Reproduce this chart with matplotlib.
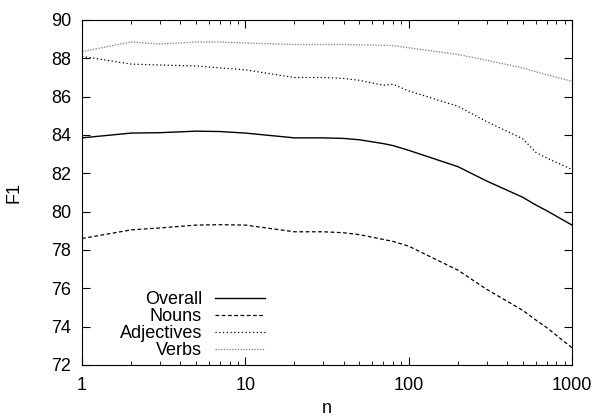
import matplotlib
matplotlib.use("Agg")
import matplotlib.pyplot as plt
from matplotlib.ticker import LogLocator, NullFormatter

plt.rcParams['font.family'] = ['Liberation Sans', 'DejaVu Sans']

# F1 versus n
n = [1, 2, 3, 5, 7, 10, 20, 30, 40, 50, 70, 80, 100, 200, 300, 500, 600, 700, 1000]
overall = [83.85, 84.1, 84.12, 84.2, 84.18, 84.1, 83.85, 83.85, 83.82, 83.75, 83.55, 83.45, 83.2, 82.35, 81.6, 80.75, 80.35, 80.05, 79.3]
nouns = [78.6, 79.05, 79.15, 79.3, 79.32, 79.3, 78.95, 78.95, 78.9, 78.8, 78.55, 78.45, 78.2, 76.95, 75.95, 74.85, 74.35, 73.95, 72.9]
adjectives = [88.1, 87.7, 87.65, 87.6, 87.5, 87.4, 87.0, 87.0, 86.95, 86.85, 86.6, 86.65, 86.3, 85.5, 84.7, 83.8, 83.1, 82.8, 82.2]
verbs = [88.35, 88.85, 88.75, 88.85, 88.85, 88.8, 88.72, 88.72, 88.72, 88.7, 88.68, 88.66, 88.55, 88.2, 87.9, 87.5, 87.3, 87.15, 86.8]

fig = plt.figure(figsize=(5.96, 4.19), dpi=100)
ax = fig.add_axes([0.1376, 0.1289, 0.8221, 0.8234])

ax.plot(n, overall, color='black', lw=1.0, label='Overall')
ax.plot(n, nouns, color='black', lw=0.9, dashes=(3, 2), label='Nouns')
ax.plot(n, adjectives, color='black', lw=0.9, dashes=(1, 2), label='Adjectives')
ax.plot(n, verbs, color='#909090', lw=1.0, dashes=(1, 1), label='Verbs')

ax.set_xscale('log')
ax.set_xlim(1, 1000)
ax.set_ylim(72, 90)
ax.set_xticks([1, 10, 100, 1000])
ax.set_xticklabels(['1', '10', '100', '1000'])
ax.xaxis.set_minor_locator(LogLocator(base=10, subs=range(2, 10)))
ax.xaxis.set_minor_formatter(NullFormatter())
ax.set_yticks(range(72, 91, 2))

ax.tick_params(which='both', direction='in', top=True, right=True, labelsize=13)
ax.tick_params(axis='x', pad=9)
ax.tick_params(axis='y', pad=8)
ax.tick_params(which='major', length=6)
ax.tick_params(which='minor', length=3)

ax.set_xlabel('n', fontsize=13, labelpad=4)
ax.set_ylabel('F1', fontsize=13, labelpad=20)

ax.legend(loc='lower right', bbox_to_anchor=(0.373, 0.017), frameon=False, markerfirst=False,
          fontsize=13, handlelength=2.77, labelspacing=0.0, handletextpad=0.7,
          borderpad=0, borderaxespad=0)

fig.savefig('out.png', dpi=100)
